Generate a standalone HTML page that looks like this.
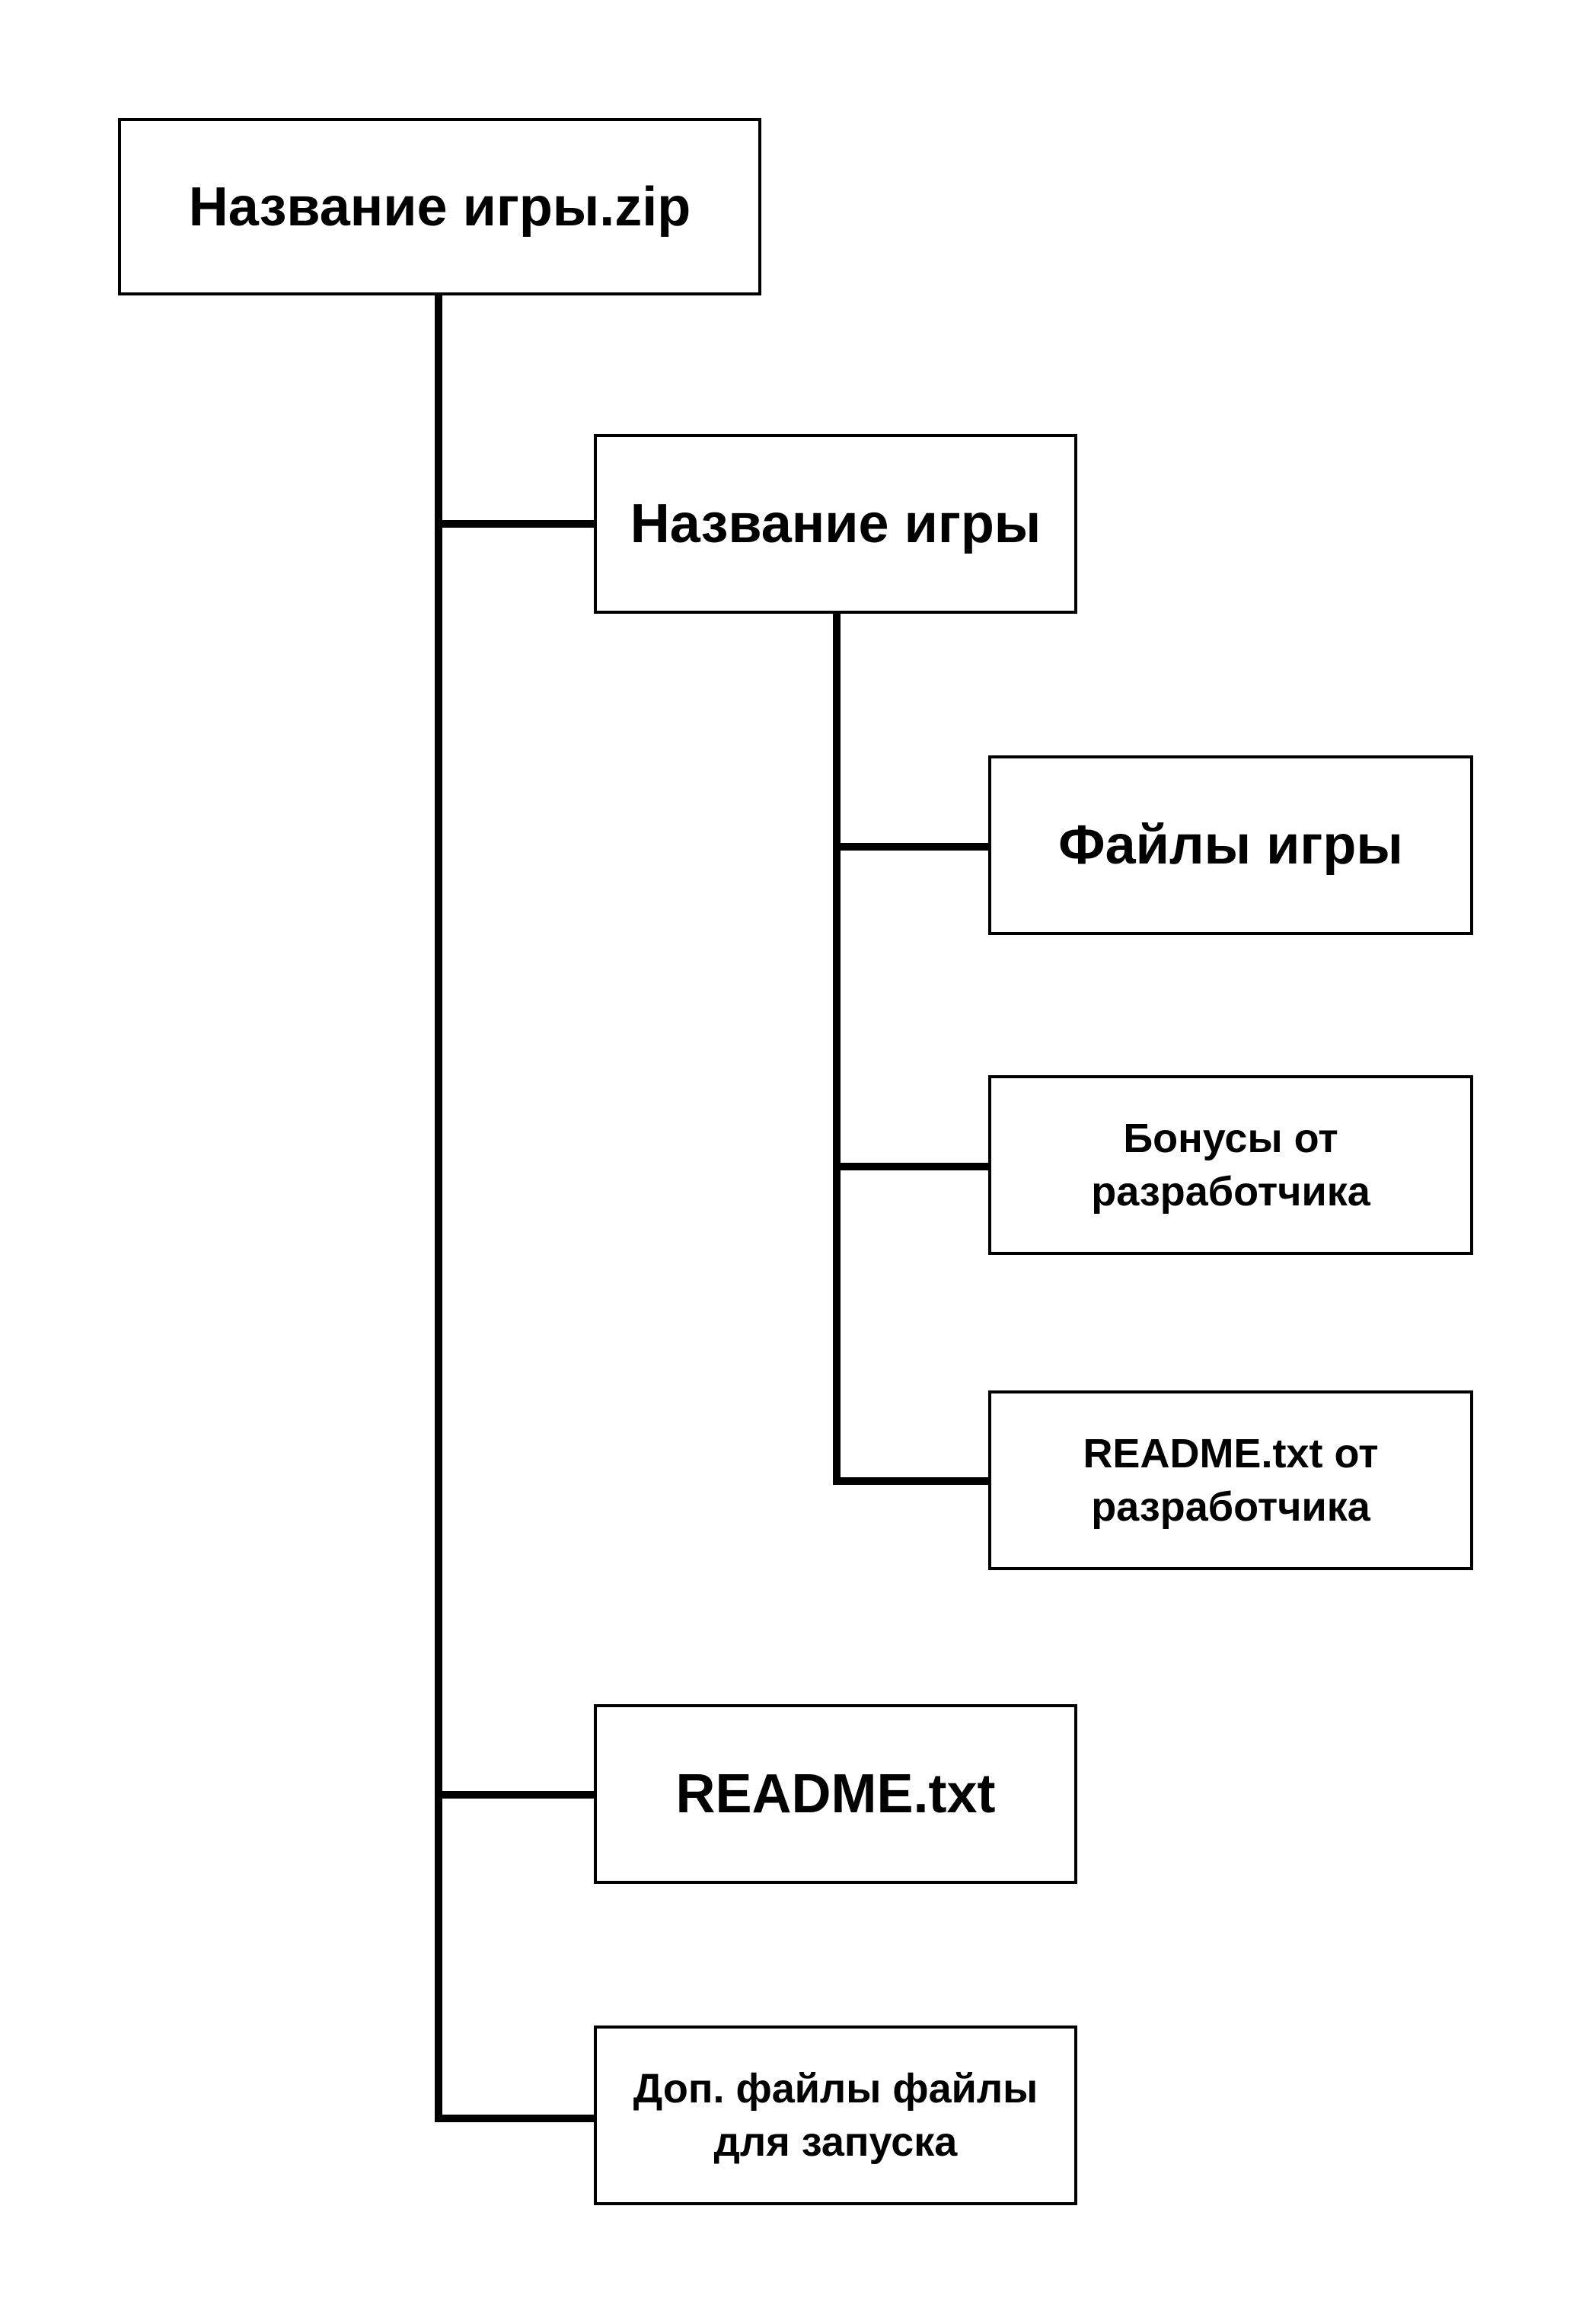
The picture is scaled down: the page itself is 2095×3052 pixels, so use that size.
<!DOCTYPE html>
<html><head><meta charset="utf-8"><style>
body{margin:0;width:2095px;height:3052px;background:#fff;position:relative;overflow:hidden;font-family:"Liberation Sans","DejaVu Sans",sans-serif;}
.b{position:absolute;box-sizing:border-box;border:4px solid #000;background:#fff;display:flex;align-items:center;justify-content:center;text-align:center;color:#000;}
.L{font-size:72px;font-weight:bold;}
.S{font-size:54px;line-height:70px;font-weight:bold;}
.l{position:absolute;background:#000;}
</style></head><body>
<div class="l" style="left:571px;top:384px;width:10px;height:2403px"></div>
<div class="l" style="left:571px;top:683px;width:212px;height:10px"></div>
<div class="l" style="left:571px;top:2352px;width:212px;height:10px"></div>
<div class="l" style="left:571px;top:2777px;width:212px;height:10px"></div>
<div class="l" style="left:1094px;top:806px;width:10px;height:1144px"></div>
<div class="l" style="left:1094px;top:1107px;width:206px;height:10px"></div>
<div class="l" style="left:1094px;top:1527px;width:206px;height:10px"></div>
<div class="l" style="left:1094px;top:1940px;width:206px;height:10px"></div>

<div class="b L" style="left:155px;top:155px;width:845px;height:233px">Название игры.zip</div>
<div class="b L" style="left:780px;top:570px;width:635px;height:236px">Название игры</div>
<div class="b L" style="left:1298px;top:992px;width:637px;height:236px">Файлы игры</div>
<div class="b S" style="left:1298px;top:1412px;width:637px;height:236px">Бонусы от<br>разработчика</div>
<div class="b S" style="left:1298px;top:1826px;width:637px;height:236px">README.txt от<br>разработчика</div>
<div class="b L" style="left:780px;top:2238px;width:635px;height:236px">README.txt</div>
<div class="b S" style="left:780px;top:2660px;width:635px;height:236px">Доп. файлы файлы<br>для запуска</div>
</body></html>
